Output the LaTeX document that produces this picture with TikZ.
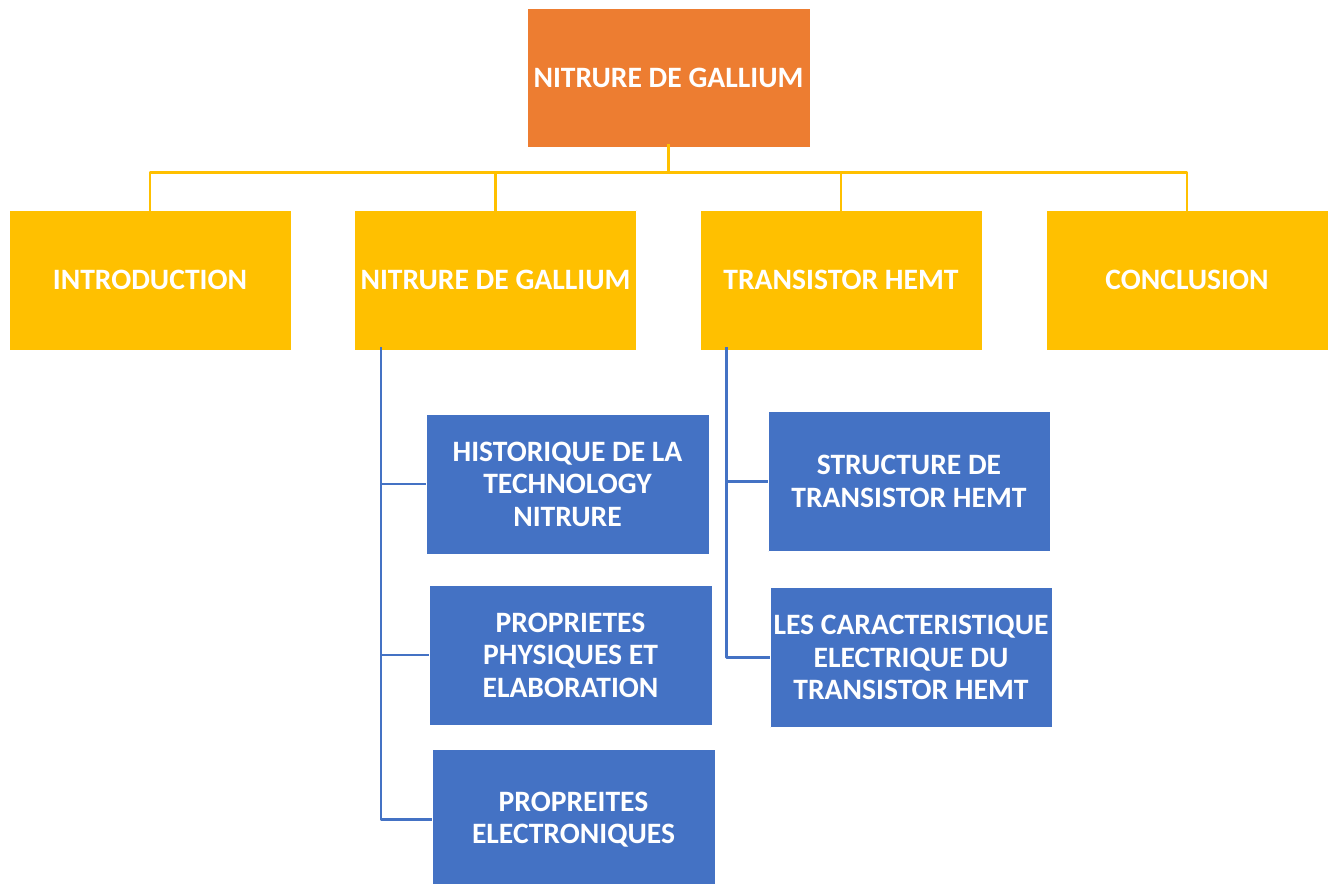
\documentclass[tikz,border=0pt]{standalone}
\usepackage{fontspec}
\setmainfont{Carlito}
\usepackage{tikz}
\usetikzlibrary{positioning}
\definecolor{gorange}{HTML}{ED7D31}
\definecolor{gyellow}{HTML}{FFC000}
\definecolor{gblue}{HTML}{4472C4}

\begin{document}
\begin{tikzpicture}[line join=round,x=1pt,y=-1pt]
\useasboundingbox (0,0) rectangle (1335,883);
\tikzstyle{mybox}= [draw=white, line width=0.6pt, text=white, align=center, font=\bfseries\fontsize{29.6}{32.5}\selectfont, minimum width=283pt, minimum height=140pt, inner sep=2pt];
\tikzstyle{topbox}= [mybox, fill=gorange, minimum height=139pt];
\tikzstyle{partbox}= [mybox, fill=gyellow, minimum width=282pt];
\tikzstyle{subbox}= [mybox, fill=gblue];
\tikzstyle{yline}= [line width=2.5pt, color=gyellow];
\tikzstyle{bline}= [line width=2.5pt, color=gblue];
%top
\node [topbox] (gan) at (668.5, 77.5) {NITRURE DE GALLIUM};
%parts
\node [partbox] (intro) at (150, 280) {INTRODUCTION};
\node [partbox] (nitrure) at (495.5, 280) {NITRURE DE GALLIUM};
\node [partbox] (hemt) at (841, 280) {TRANSISTOR HEMT};
\node [partbox] (concl) at (1187, 280) {CONCLUSION};
%sub parts
\node [subbox] (histo) at (567.5, 484) {HISTORIQUE DE LA\\TECHNOLOGY\\NITRURE};
\node [subbox] (physi) at (570.5, 655) {PROPRIETES\\PHYSIQUES ET\\ELABORATION};
\node [subbox, minimum height=141pt] (electro) at (573.5, 819.5) {PROPREITES\\ELECTRONIQUES};
\node [subbox, minimum width=282pt] (struct) at (909, 481.5) {STRUCTURE DE\\TRANSISTOR HEMT};
\node [subbox, minimum width=282pt] (caract) at (911, 657.5) {LES CARACTERISTIQUE\\ELECTRIQUE DU\\TRANSISTOR HEMT};
%yellow lines
\draw [yline] ([yshift=3pt]gan.south) -- ++(0,28) coordinate (hub);
\draw [yline] (hub) -| ([yshift=-3pt]intro.north);
\draw [yline] (hub) -| ([yshift=-3pt]nitrure.north);
\draw [yline] (hub) -| ([yshift=-3pt]hemt.north);
\draw [yline] (hub) -| ([yshift=-3pt]concl.north);
%blue lines
\draw [bline] ([xshift=27pt,yshift=3pt]nitrure.south west) |- (histo.west);
\draw [bline] ([xshift=27pt,yshift=3pt]nitrure.south west) |- (physi.west);
\draw [bline] ([xshift=27pt,yshift=3pt]nitrure.south west) |- (electro.west);
\draw [bline] ([xshift=27pt,yshift=3pt]hemt.south west) |- (struct.west);
\draw [bline] ([xshift=27pt,yshift=3pt]hemt.south west) |- (caract.west);
\end{tikzpicture}
\end{document}
